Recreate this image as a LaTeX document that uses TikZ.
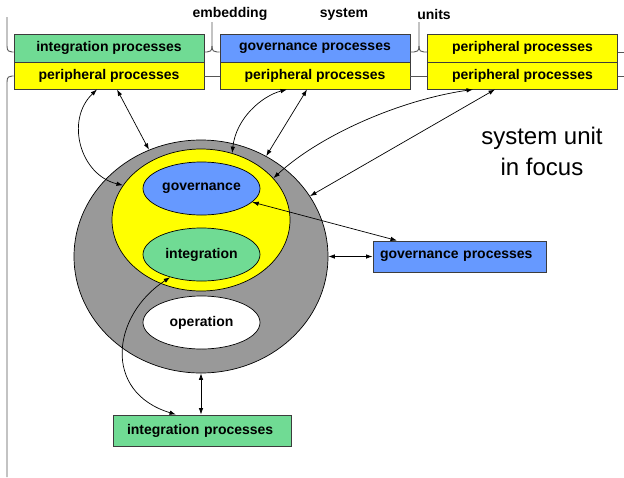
\documentclass[tikz,border=0pt]{standalone}
\usepackage{fontspec}
\setmainfont{Liberation Sans}
\usetikzlibrary{arrows.meta,shapes.geometric}

\definecolor{procgreen}{RGB}{112,219,148}
\definecolor{procblue}{RGB}{102,153,255}
\definecolor{procyellow}{RGB}{255,255,0}
\definecolor{unitgray}{RGB}{153,153,153}
\definecolor{edgegray}{RGB}{60,60,60}
\definecolor{bracegray}{RGB}{85,85,85}

\begin{document}
\begin{tikzpicture}[x=1pt,y=-1pt,
  labelfont/.style={font=\fontsize{14}{16}\selectfont\bfseries},
  procbox/.style={draw=edgegray, line width=0.9pt, inner sep=0pt,
    minimum width=190pt, labelfont},
  toprow/.style={procbox, minimum height=28pt},
  lowrow/.style={procbox, minimum height=27pt, fill=procyellow},
  sidebox/.style={draw=edgegray, line width=0.9pt, inner ysep=0pt,
    minimum height=31pt, align=left, labelfont},
  region/.style={ellipse, draw=black, line width=0.7pt, inner sep=0pt},
  inner/.style={region, minimum width=117pt, minimum height=53pt, labelfont},
  link/.style={draw=black, line width=0.7pt,
    {Latex[length=6.5pt,width=4.5pt]}-{Latex[length=6.5pt,width=4.5pt]}},
  brace/.style={draw=bracegray, line width=0.9pt},
]
\useasboundingbox (0,0) rectangle (624,477);

% embedding system units along the top
\node[toprow, fill=procgreen] (intA) at (109,48) {integration processes};
\node[lowrow] (perA) at (109,75.5) {peripheral processes};
\node[toprow, fill=procblue] (govB) at (315,48) {governance processes};
\node[lowrow] (perB) at (315,75.5) {peripheral processes};
\node[toprow, fill=procyellow] (perC1) at (522.5,48) {peripheral processes};
\node[lowrow] (perC) at (522.5,75.5) {peripheral processes};

\node[labelfont] (lblEmb) at (230,14) {embedding};
\node[labelfont] (lblSys) at (344,14) {system};
\node[labelfont] (lblUnits) at (434,14) {units};

% brackets and joins between the units
\draw[brace] (7,17) -- (7,46) .. controls (7,51) and (9,52) .. (12,52) -- ([yshift=-4pt]intA.west);
\draw[brace] ([yshift=-0.5pt]perA.west) -- (12,76) .. controls (9,76) and (7,77) .. (7,82) -- (7,477);
\draw[brace] (212,22) -- (212,46) .. controls (212,51) and (210,52) .. (207,52) -- ([yshift=-4pt]intA.east);
\draw[brace] (212,46) .. controls (212,51) and (214,52) .. (217,52) -- ([yshift=-4pt]govB.west);
\draw[brace] (419,22) -- (419,46) .. controls (419,51) and (417,52) .. (414,52) -- ([yshift=-4pt]govB.east);
\draw[brace] (419,46) .. controls (419,51) and (421,52) .. (424,52) -- ([yshift=-4pt]perC1.west);
\draw[brace] ([yshift=-0.5pt]perA.east) -- ([yshift=-0.5pt]perB.west);
\draw[brace] ([yshift=-0.5pt]perB.east) -- ([yshift=-0.5pt]perC.west);
\draw[brace] ([yshift=-4pt]perC1.east) -- (624,52);
\draw[brace] ([yshift=-0.5pt]perC.east) -- (624,76);

% the system unit in focus
\node[region, fill=unitgray, minimum width=254pt, minimum height=233pt] (unit) at (201,256.5) {};
\node[region, fill=procyellow, minimum width=178pt, minimum height=142pt] (core) at (201,220) {};
\node[inner, fill=procblue] (govE) at (201.5,188.5) {governance};
\node[inner, fill=procgreen] (intE) at (201.5,254.5) {integration};
\node[inner, fill=white] (opE) at (201.5,322.5) {operation};

\node[font=\fontsize{24}{31}\selectfont, align=center] (focus) at (542,151) {system unit\\in focus};

% own processes of the unit
\node[sidebox, fill=procblue, text width=159pt, inner xsep=7pt] (govP) at (459.5,256.5) {governance processes};
\node[sidebox, fill=procgreen, text width=150pt, inner xsep=14pt] (intP) at (202,430.5) {integration processes};

% links
\draw[link] ([xshift=-12pt]perA.south) .. controls (65,120) and (80,175) .. (core.156.4);
\draw[link] ([xshift=8pt]perA.south) -- (unit.116.9);
\draw[link] ([xshift=-28pt]perB.south) .. controls (262,96) and (236,118) .. (core.65.9);
\draw[link] ([xshift=-8pt]perB.south) -- (unit.57.4);
\draw[link] ([xshift=-49.5pt]perC.south) .. controls (400,100) and (320,135) .. (core.30.8);
\draw[link] ([xshift=-27.5pt]perC.south) -- (unit.29.2);
\draw[link] ([xshift=-62.5pt]govP.north) -- (govE.-15);
\draw[link] (unit.east) -- (govP.west);
\draw[link] (intE.216.4) .. controls (112,315) and (102,392) .. ([xshift=-26pt]intP.north);
\draw[link] (unit.south) -- (unit.south |- intP.north);
\end{tikzpicture}
\end{document}
